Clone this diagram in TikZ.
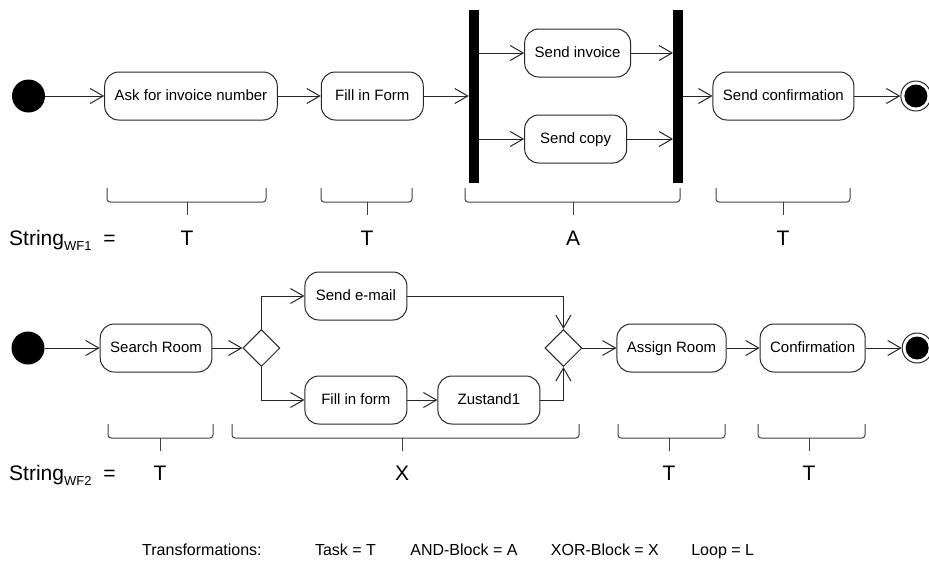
\documentclass[tikz,border=0pt]{standalone}
\usepackage{fontspec}
\setmainfont{Liberation Sans}
\usetikzlibrary{positioning,shapes.geometric,arrows.meta,calc}

\tikzset{
  activity/.style={draw=black!85, line width=1pt, rounded corners=14pt,
    minimum width=102pt, minimum height=48pt, inner xsep=10pt,
    text height=11pt, text depth=3pt,
    font=\fontsize{15}{18}\selectfont},
  initial/.style={circle, fill=black, minimum size=33pt, inner sep=0pt},
  final/.style={circle, draw=black!85, line width=1pt, minimum size=30pt, inner sep=0pt,
    path picture={\fill[black] (path picture bounding box.center) circle (11.5pt);}},
  syncbar/.style={fill=black, minimum width=10pt, minimum height=173pt, inner sep=0pt},
  decision/.style={diamond, draw=black!85, line width=1pt,
    minimum width=37pt, minimum height=37pt, inner sep=0pt},
  flow/.style={draw=black!85, line width=1pt, -{Straight Barb[length=13pt, width=15pt]}},
  bracket/.style={draw=black!75, line width=1pt, rounded corners=3pt},
  wflabel/.style={font=\fontsize{21}{25}\selectfont, inner sep=0pt, anchor=base},
  legend/.style={font=\fontsize{16}{19}\selectfont, inner sep=0pt}
}

\begin{document}
\begin{tikzpicture}[x=1pt, y=-1pt]
  \useasboundingbox (0,0) rectangle (929,566);

  % workflow 1
  \node [initial] (start1) at (28.5,96) {};
  \node [activity, right=59pt of start1] (ask) {Ask for invoice number};
  \node [activity, right=43pt of ask] (form1) {Fill in Form};
  \node [syncbar, right=45pt of form1] (bar1) {};
  \node [activity, anchor=west] (invoice) at ([xshift=45pt, yshift=43pt]bar1.east) {Send invoice};
  \node [activity, anchor=west] (sendcopy) at ([xshift=45pt, yshift=-43pt]bar1.east) {Send copy};
  \node [syncbar, anchor=west] (bar2) at ($(invoice.east |- bar1)+(42,0)$) {};
  \node [activity, right=29pt of bar2] (sconf) {Send confirmation};
  \node [final, right=46pt of sconf] (end1) {};

  \draw [flow] (start1) -- (ask);
  \draw [flow] (ask) -- (form1);
  \draw [flow] (form1) -- (bar1);
  \draw [flow] (bar1.east |- invoice) -- (invoice);
  \draw [flow] (bar1.east |- sendcopy) -- (sendcopy);
  \draw [flow] (invoice) -- (invoice -| bar2.west);
  \draw [flow] (sendcopy) -- (sendcopy -| bar2.west);
  \draw [flow] (bar2) -- (sconf);
  \draw [flow] (sconf) -- (end1);

  % string of workflow 1
  \draw [bracket] (107,188) -- (107,202) -- (266,202) -- (266,188);
  \draw [bracket] (187,202) -- (187,215);
  \draw [bracket] (321,188) -- (321,202) -- (412,202) -- (412,188);
  \draw [bracket] (367,202) -- (367,215);
  \draw [bracket] (465,188) -- (465,202) -- (680,202) -- (680,188);
  \draw [bracket] (573,202) -- (573,215);
  \draw [bracket] (716,188) -- (716,202) -- (850,202) -- (850,188);
  \draw [bracket] (783,202) -- (783,215);
  \node [wflabel, anchor=base west] (str1) at (9,245)
    {String{\fontsize{13}{15}\selectfont\raisebox{-5pt}{WF1}}\hspace{6pt} =};
  \node [wflabel] (t11) at (187,245) {T};
  \node [wflabel] (t12) at (367,245) {T};
  \node [wflabel] (t13) at (573,245) {A};
  \node [wflabel] (t14) at (783,245) {T};

  % workflow 2
  \node [initial] (start2) at (28,348) {};
  \node [activity, right=55pt of start2] (search) {Search Room};
  \node [decision, right=30pt of search] (dia1) {};
  \node [activity, anchor=west] (mail) at ([xshift=43pt, yshift=52pt]dia1.center) {Send e-mail};
  \node [activity, anchor=west] (form2) at ([xshift=43pt, yshift=-52pt]dia1.center) {Fill in form};
  \node [activity, right=30pt of form2] (zust) {Zustand1};
  \node [decision] (dia2) at ($(zust.east |- dia1)+(23,0)$) {};
  \node [activity, right=34pt of dia2] (assign) {Assign Room};
  \node [activity, right=33pt of assign] (conf) {Confirmation};
  \node [final, right=36pt of conf] (end2) {};

  \draw [flow] (start2) -- (search);
  \draw [flow] (search) -- (dia1);
  \draw [flow] (dia1.north) |- (mail);
  \draw [flow] (dia1.south) |- (form2);
  \draw [flow] (form2) -- (zust);
  \draw [flow] (mail) -| (dia2.north);
  \draw [flow] (zust) -| (dia2.south);
  \draw [flow] (dia2) -- (assign);
  \draw [flow] (assign) -- (conf);
  \draw [flow] (conf) -- (end2);

  % string of workflow 2
  \draw [bracket] (108,424) -- (108,438) -- (213,438) -- (213,424);
  \draw [bracket] (160,438) -- (160,451);
  \draw [bracket] (232,424) -- (232,438) -- (579,438) -- (579,424);
  \draw [bracket] (402,438) -- (402,451);
  \draw [bracket] (618,424) -- (618,438) -- (725,438) -- (725,424);
  \draw [bracket] (669,438) -- (669,451);
  \draw [bracket] (758,424) -- (758,438) -- (865,438) -- (865,424);
  \draw [bracket] (809,438) -- (809,451);
  \node [wflabel, anchor=base west] (str2) at (9,480)
    {String{\fontsize{13}{15}\selectfont\raisebox{-5pt}{WF2}}\hspace{6pt} =};
  \node [wflabel] (t21) at (160,480) {T};
  \node [wflabel] (t22) at (402,480) {X};
  \node [wflabel] (t23) at (669,480) {T};
  \node [wflabel] (t24) at (809,480) {T};

  % legend
  \node [legend, anchor=base west] (trans) at (142,555) {Transformations:};
  \node [legend, base right=53pt of trans] (ltask) {Task = T};
  \node [legend, base right=34pt of ltask] (land) {AND-Block = A};
  \node [legend, base right=33pt of land] (lxor) {XOR-Block = X};
  \node [legend, base right=32pt of lxor] (lloop) {Loop = L};
\end{tikzpicture}
\end{document}
